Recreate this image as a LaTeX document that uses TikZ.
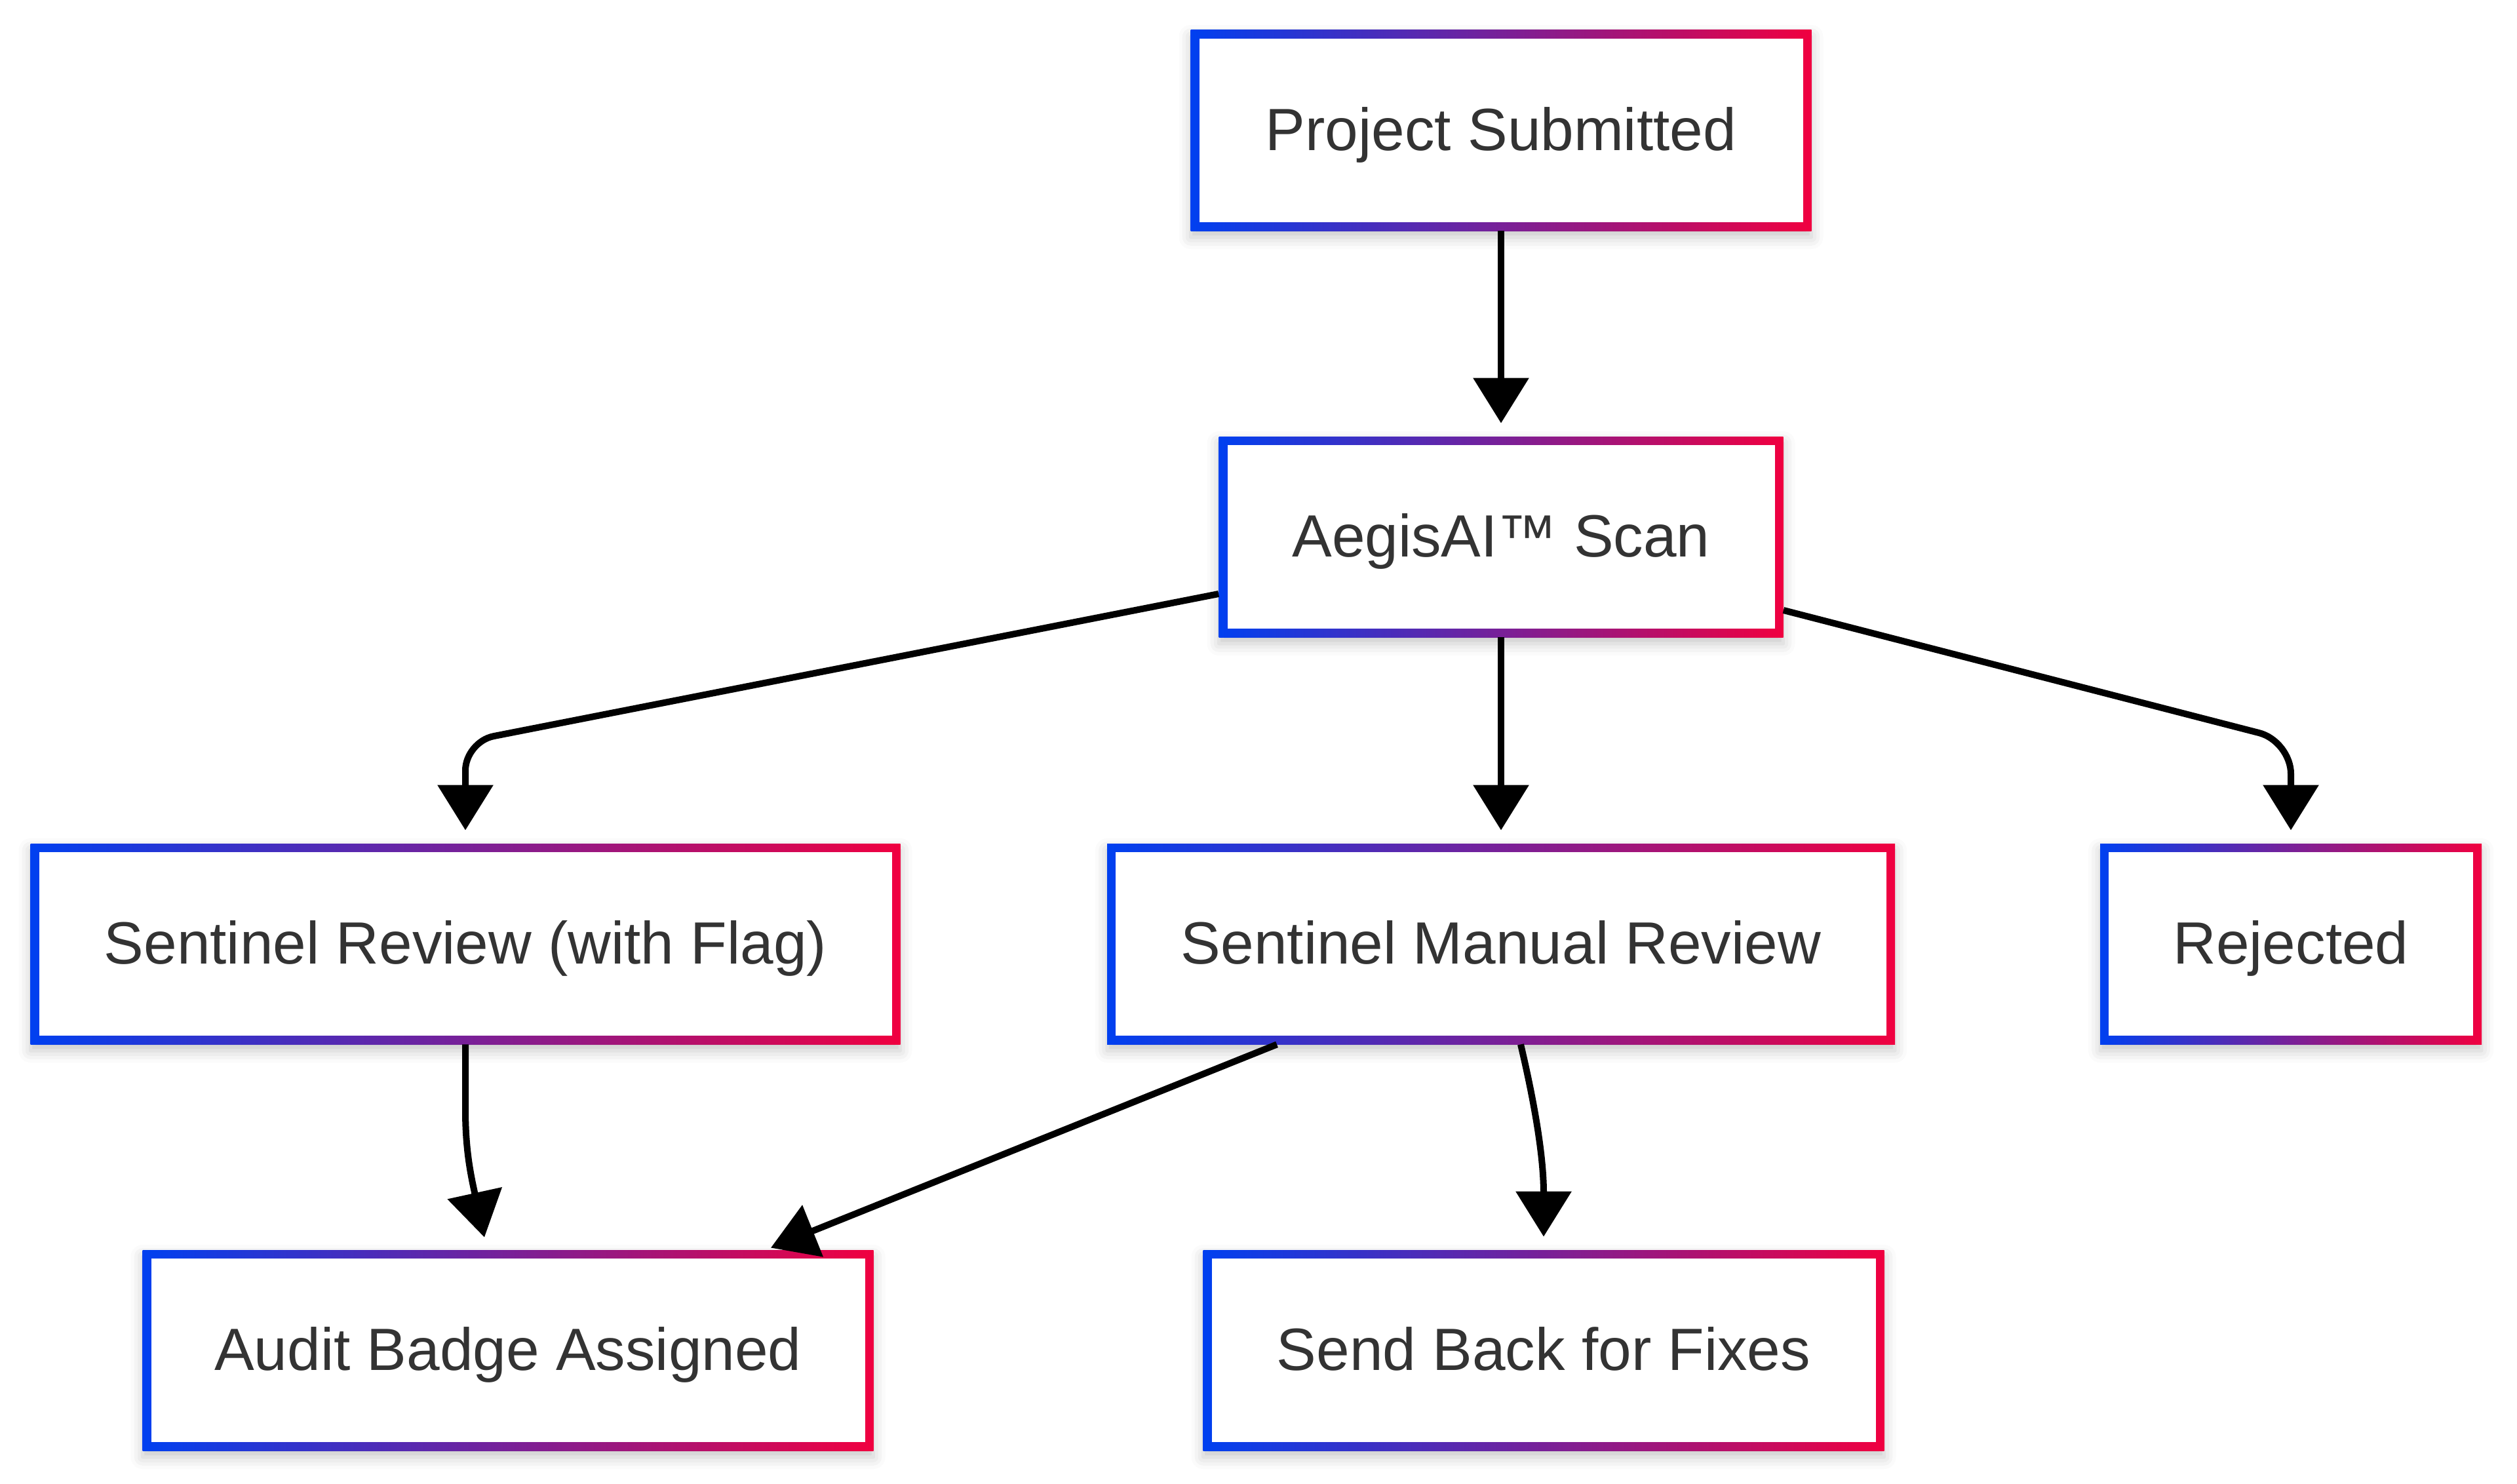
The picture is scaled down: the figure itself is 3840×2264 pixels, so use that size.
\documentclass[tikz,border=0pt]{standalone}
\usepackage{fontspec}
\setmainfont{Liberation Sans}
\usetikzlibrary{arrows.meta,calc,shadows.blur}
\definecolor{gblue}{HTML}{0040F0}
\definecolor{gred}{HTML}{F00040}
\definecolor{txtc}{HTML}{333333}
\tikzset{
  gbox/.style={rectangle, inner sep=0pt, minimum height=153pt,
    text height=40pt, text depth=10pt,
    left color=gblue, right color=gred, draw=none,
    blur shadow={shadow xshift=0pt, shadow yshift=-5pt, shadow blur radius=9pt, shadow opacity=22},
    text=txtc, font=\fontsize{45.5pt}{54pt}\selectfont,
    path picture={\fill[white] ([shift={(6.5pt,-6.5pt)}]path picture bounding box.north west) rectangle ([shift={(-6.5pt,6.5pt)}]path picture bounding box.south east);}},
  flow/.style={draw=black, line width=5pt, -{Triangle[length=34.5pt,width=41.5pt]}},
}
\begin{document}
\begin{tikzpicture}[x=0.5pt,y=-0.5pt]
\useasboundingbox (0,0) rectangle (3840,2264);
\node[gbox, minimum width=473.5pt] (ps) at (2290,199) {Project Submitted};
\node[gbox, minimum width=430.5pt] (scan) at (2290,819) {AegisAI™ Scan};
\node[gbox, minimum width=663.5pt] (srf) at (710,1440) {Sentinel Review (with Flag)};
\node[gbox, minimum width=601pt] (smr) at (2290,1440) {Sentinel Manual Review};
\node[gbox, minimum width=291pt] (rej) at (3495,1440) {Rejected};
\node[gbox, minimum width=557.5pt] (abd) at (775,2060) {Audit Badge Assigned};
\node[gbox, minimum width=519.5pt] (sbf) at (2355,2060) {Send Back for Fixes};

\draw[flow] (ps.south) -- ($(scan.north)+(0,-20)$);
\draw[flow] (scan.south) -- ($(smr.north)+(0,-20)$);
\draw[flow, rounded corners=22pt] ($(scan.west)+(0,87)$) -- ($(srf.north)+(0,-155)$) -- ($(srf.north)+(0,-20)$);
\draw[flow, rounded corners=25pt] ($(scan.east)+(0,112)$) -- ($(rej.north)+(0,-156)$) -- ($(rej.north)+(0,-20)$);
\draw[flow] (srf.south) -- ++(0,100) .. controls +(0,60) and ($(abd.north)+(-57,-115)$) .. ($(abd.north)+(-36,-19)$);
\draw[flow] ($(smr.south)+(-342,0)$) -- ($(abd.north)+(401,-3)$);
\draw[flow] ($(smr.south)+(30,0)$) .. controls +(17,72) and ($(sbf.north)+(0,-150)$) .. ($(sbf.north)+(0,-20)$);
\end{tikzpicture}
\end{document}
